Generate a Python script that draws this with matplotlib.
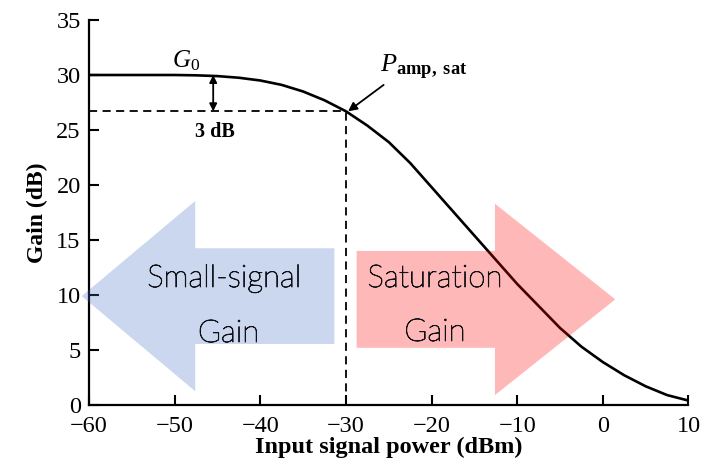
import matplotlib
matplotlib.use("Agg")
import matplotlib.pyplot as plt
import matplotlib.patheffects as pe
from matplotlib.patches import FancyArrow

# Amplifier gain versus input signal power
input_dbm = [-60, -57.5, -55, -52.5, -50, -47.5, -45, -42.5, -40, -37.5, -35,
             -32.5, -30, -27.5, -25, -22.5, -20, -17.5, -15, -12.5, -10,
             -7.5, -5, -2.5, 0, 2.5, 5, 7.5, 10]
gain_db = [30.0, 30.0, 30.0, 30.0, 30.0, 29.97, 29.9, 29.75, 29.5, 29.1, 28.5,
           27.7, 26.7, 25.4, 23.9, 22.0, 19.8, 17.6, 15.4, 13.2, 11.0,
           9.0, 7.0, 5.3, 3.9, 2.7, 1.7, 0.9, 0.4]

x_ticks = [-60, -50, -40, -30, -20, -10, 0, 10]
y_ticks = [0, 5, 10, 15, 20, 25, 30, 35]

g0 = 30.0
p_sat = -30.0
g_sat = 26.7
drop_label = "3 dB"

region_left = ["Small-signal", "Gain"]
region_right = ["Saturation", "Gain"]

plt.rcParams["font.family"] = ["Liberation Serif", "DejaVu Serif"]
plt.rcParams["mathtext.fontset"] = "custom"
plt.rcParams["mathtext.rm"] = "Liberation Serif"
plt.rcParams["mathtext.it"] = "Liberation Serif:italic"
plt.rcParams["mathtext.bf"] = "Liberation Serif:bold"

fig = plt.figure(figsize=(7.06, 4.75), dpi=100)
ax = fig.add_axes([0.1261, 0.1474, 0.8491, 0.8105])

ax.plot(input_dbm, gain_db, color="black", lw=1.9, zorder=3, solid_capstyle="butt")

# 3 dB reference lines
dash = (0, (4.5, 3))
ax.plot([input_dbm[0], p_sat], [g_sat, g_sat], color="black", lw=1.3, ls=dash, zorder=2)
ax.plot([p_sat, p_sat], [0, g_sat], color="black", lw=1.3, ls=dash, zorder=2)

ax.annotate("", xy=(-45.5, g_sat), xytext=(-45.5, g0),
            arrowprops=dict(arrowstyle="<|-|>", lw=1.3, color="black",
                            shrinkA=0, shrinkB=0, mutation_scale=11))
ax.text(-45.3, 24.8, drop_label, ha="center", va="center", fontsize=14.5,
        fontweight="bold")
ax.text(-50.3, 30.7, r"$G_0$", ha="left", va="baseline", fontsize=18)

ax.annotate("", xy=(p_sat + 0.25, g_sat), xytext=(-25.6, 29.1),
            arrowprops=dict(arrowstyle="-|>", lw=1.3, color="black",
                            shrinkA=0, shrinkB=0, mutation_scale=13))
ax.text(-26.0, 30.2, r"$P_{\mathbf{amp,\ sat}}$", ha="left", va="baseline",
        fontsize=19)

# Region arrows
blue = FancyArrow(-31.35, 9.9, -29.5, 0, width=8.7, head_width=17.3,
                  head_length=13.25, length_includes_head=True,
                  facecolor="#4472C4", edgecolor="none", alpha=0.28,
                  zorder=4, clip_on=False)
red = FancyArrow(-28.75, 9.6, 30.2, 0, width=8.8, head_width=17.4,
                 head_length=14.05, length_includes_head=True,
                 facecolor="#FF0000", edgecolor="none", alpha=0.28,
                 zorder=4, clip_on=False)
ax.add_patch(blue)
ax.add_patch(red)

txt_kw = dict(ha="center", va="center", fontsize=22.5, color="#111118",
              family=["Lato", "DejaVu Sans"], fontweight="light", zorder=5,
              path_effects=[pe.withStroke(linewidth=0.6, foreground="#111118")])
ax.text(-44.2, 11.5, region_left[0], **txt_kw)
ax.text(-43.7, 6.5, region_left[1], **txt_kw)
ax.text(-19.6, 11.5, region_right[0], **txt_kw)
ax.text(-19.6, 6.6, region_right[1], **txt_kw)

ax.set_xlim(-60, 10)
ax.set_ylim(0, 35)
ax.set_xticks(x_ticks)
ax.set_yticks(y_ticks)
for s in ("top", "right"):
    ax.spines[s].set_visible(False)
for s in ("left", "bottom"):
    ax.spines[s].set_linewidth(1.6)
ax.tick_params(direction="in", length=7, width=1.5, labelsize=17.5)
ax.tick_params(axis="x", pad=8)
ax.tick_params(axis="y", pad=6)

ax.set_xlabel("Input signal power (dBm)", fontsize=17.5, fontweight="bold", labelpad=0)
ax.set_ylabel("Gain (dB)", fontsize=17, fontweight="bold", labelpad=6)

fig.savefig("out.png", dpi=100)
